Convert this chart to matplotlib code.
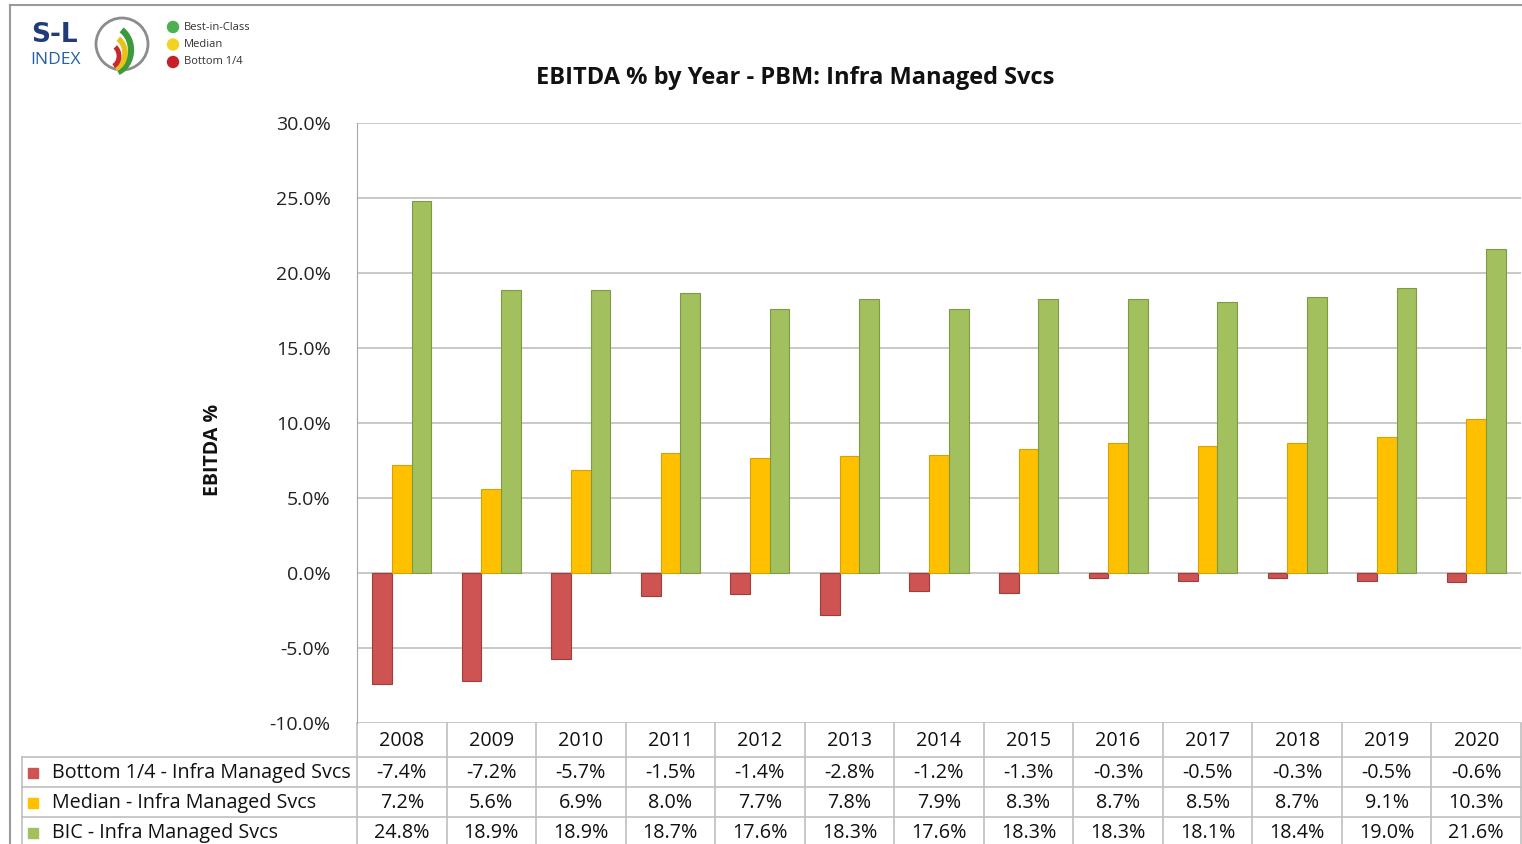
import matplotlib.pyplot as plt
import numpy as np
from matplotlib.patches import Circle, Arc, Rectangle
from matplotlib.lines import Line2D

# Data
years = ["2008", "2009", "2010", "2011", "2012", "2013", "2014",
         "2015", "2016", "2017", "2018", "2019", "2020"]
bottom = [-7.4, -7.2, -5.7, -1.5, -1.4, -2.8, -1.2, -1.3, -0.3, -0.5, -0.3, -0.5, -0.6]
median = [7.2, 5.6, 6.9, 8.0, 7.7, 7.8, 7.9, 8.3, 8.7, 8.5, 8.7, 9.1, 10.3]
bic = [24.8, 18.9, 18.9, 18.7, 17.6, 18.3, 17.6, 18.3, 18.3, 18.1, 18.4, 19.0, 21.6]
series_names = ["Bottom 1/4 - Infra Managed Svcs", "Median - Infra Managed Svcs",
                "BIC - Infra Managed Svcs"]
colors = ["#CD5452", "#FFC000", "#A2C05E"]
edges = ["#A03C3A", "#D9A200", "#7E9A45"]

plt.rcParams['font.family'] = ['Open Sans', 'DejaVu Sans']

W, H = 1522, 844
fig = plt.figure(figsize=(W / 100, H / 100), dpi=100)

# overlay axes in pixel coords for frame, table, logo
ov = fig.add_axes([0, 0, 1, 1])
ov.set_xlim(0, W)
ov.set_ylim(H, 0)
ov.axis("off")

# main chart
x0, x1, ytop, ybot = 357, 1521, 123, 723
ax = fig.add_axes([x0 / W, 1 - ybot / H, (x1 - x0) / W, (ybot - ytop) / H])
x = np.arange(len(years))
bw = 0.22
for i, vals in enumerate([bottom, median, bic]):
    ax.bar(x + (i - 1) * bw, vals, bw, color=colors[i], edgecolor=edges[i],
           linewidth=0.8, zorder=3)
ax.set_xlim(-0.5, len(years) - 0.5)
ax.set_ylim(-10, 30)
ax.set_yticks(np.arange(-10, 31, 5))
ax.set_yticklabels([f"{v:.1f}%" for v in np.arange(-10, 31, 5)], fontsize=14)
ax.tick_params(axis="y", length=0, pad=19, colors="#222222")
ax.set_xticks([])
ax.grid(axis="y", color="#BFBFBF", linewidth=1.2, zorder=0)
for s in ["top", "right", "bottom"]:
    ax.spines[s].set_visible(False)
ax.spines["left"].set_color("#A6A6A6")
ax.set_facecolor("none")

# title and y label
ov.text(795, 78, "EBITDA % by Year - PBM: Infra Managed Svcs", ha="center",
        va="center", fontsize=17, fontweight="bold", color="#111111")
ov.text(213, 450, "EBITDA %", rotation=90, ha="center", va="center",
        fontsize=14, fontweight="bold", color="#111111")

# frame lines
ov.add_line(Line2D([10, W], [5, 5], color="#9A9A9A", lw=1.5))
ov.add_line(Line2D([10, 10], [5, H], color="#9A9A9A", lw=1.5))

# data table
gc = "#BFBFBF"
colw = (x1 - x0) / len(years)
row_y = [723, 757, 787, 817, 847]
for k in range(len(years) + 1):
    xx = x0 + k * colw
    ov.add_line(Line2D([xx, xx], [723, H], color=gc, lw=1.2))
ov.add_line(Line2D([22, 22], [757, H], color=gc, lw=1.2))
for yy in row_y[1:4]:
    ov.add_line(Line2D([22, x1], [yy, yy], color=gc, lw=1.2))
for k, yr in enumerate(years):
    ov.text(x0 + (k + 0.5) * colw, 741, yr, ha="center", va="center",
            fontsize=14.2, color="#111111")
for r, vals in enumerate([bottom, median, bic]):
    yc = (row_y[r + 1] + row_y[r + 2]) / 2 + 1
    ov.add_patch(Rectangle((28, yc - 5), 10, 10, color=colors[r]))
    ov.text(52, yc, series_names[r], ha="left", va="center", fontsize=14.2,
            color="#111111")
    for k, v in enumerate(vals):
        ov.text(x0 + (k + 0.5) * colw, yc, f"{v:.1f}%", ha="center",
                va="center", fontsize=14.2, color="#111111")

# logo
ov.text(54, 35, "S-L", ha="center", va="center", fontsize=19,
        fontweight="bold", color="#1F3C78", family="DejaVu Sans")
ov.text(56, 60, "INDEX", ha="center", va="center", fontsize=12.5,
        color="#2460A7")
ov.add_patch(Circle((122, 44), 26, facecolor="white", edgecolor="#8C8C8C", lw=2))
ov.add_patch(Arc((110, 50), 42, 48, theta1=-60, theta2=70, color="#3C9A3C", lw=4.5))
ov.add_patch(Arc((110, 53), 30, 34, theta1=-60, theta2=70, color="#E8C21A", lw=4))
ov.add_patch(Arc((110, 56), 18, 22, theta1=-60, theta2=70, color="#C8282E", lw=3.5))
for j, (lab, c) in enumerate([("Best-in-Class", "#4CAF50"), ("Median", "#F2D321"),
                              ("Bottom 1/4", "#C8202A")]):
    yy = 27 + j * 17.5
    ov.add_patch(Circle((173, yy), 5.5, color=c))
    ov.text(184, yy, lab, ha="left", va="center", fontsize=8, color="#333333")

fig.savefig("out.png", dpi=100)
